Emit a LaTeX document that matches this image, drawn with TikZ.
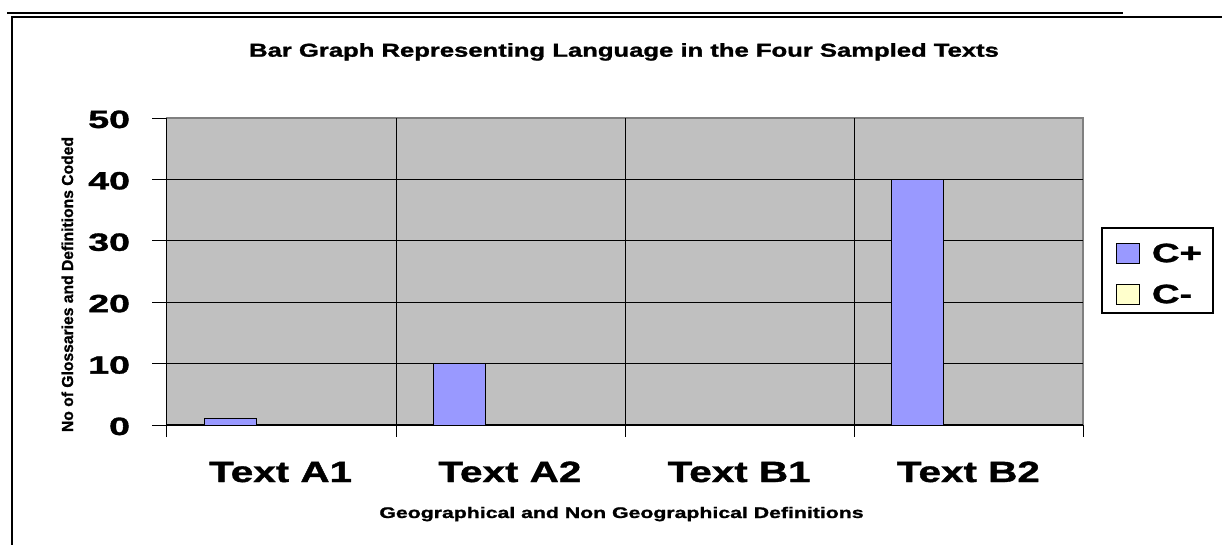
\documentclass[tikz,border=0pt]{standalone}
\usepackage{fontspec}
\setmainfont[BoldFeatures={FakeBold=1.2}]{Liberation Sans}
\usetikzlibrary{positioning}

\definecolor{plotgray}{RGB}{192,192,192}
\definecolor{edgegray}{RGB}{128,128,128}
\definecolor{cplus}{RGB}{153,153,255}
\definecolor{cminus}{RGB}{255,255,204}

\newcommand{\widen}[2]{\scalebox{#1}[1]{#2}} % stretches a text sideways

\tikzset{
x=1pt, y=-1pt, % one unit is one pixel, y runs down
every node/.style={inner sep=0pt, outer sep=0pt},
charttitle/.style={font=\fontsize{18.7}{20}\selectfont\bfseries, anchor=base},
ticklabel/.style={font=\fontsize{25}{26}\selectfont\bfseries, anchor=base east},
catlabel/.style={font=\fontsize{29.3}{30}\selectfont\bfseries, anchor=base},
axistitle/.style={font=\fontsize{15.4}{16}\selectfont\bfseries, anchor=base},
legendlabel/.style={font=\fontsize{26.5}{27}\selectfont\bfseries},
swatch/.style={draw=black, line width=1pt, minimum width=23pt, minimum height=20pt},
barbox/.style={draw=black, line width=1pt, fill=cplus},
grid line/.style={black, line width=1pt},
}

\begin{document}
\begin{tikzpicture}
    \useasboundingbox (0,0) rectangle (1222,544);

    % page rules and frame
    \draw[line width=2.6pt] (7,13) -- (1123,13);
    \draw[line width=2.3pt] (12,546) -- (12,17) -- (1224,17);

    % plot area
    \fill[plotgray] (166,118) rectangle (1083,425);
    \draw[edgegray, line width=1.5pt] (166,118) -- (1083,118) -- (1083,425);
    \foreach \v in {10,20,30,40}
        \draw[grid line] (166,{425-\v*6.14}) -- (1083,{425-\v*6.14});
    \foreach \v in {0,10,...,50}{
        \draw[grid line] (152,{425-\v*6.14}) -- (166,{425-\v*6.14});
        \node[ticklabel] (y\v) at (130,{435-\v*6.14}) {\widen{1.5}{\v}};
    }
    \foreach \x in {396,625,854}
        \draw[grid line] (\x,118) -- (\x,437);
    \draw[grid line] (166,437) -- (166,118);
    \draw[grid line] (1083,425) -- (1083,437);
    \draw[black, line width=1.3pt] (166,425) -- (1083,425);

    % bars and categories
    \foreach \i/\name/\val in {0/Text A1/1, 1/Text A2/10, 2/Text B1/0, 3/Text B2/40}{
        \pgfmathsetmacro{\catleft}{166+\i*229.25}
        \ifnum\val>0
            \draw[barbox] (\catleft+38,425) rectangle (\catleft+90,{425-\val*6.14});
        \fi
        \node[catlabel] (c\i) at (\catleft+114.6,482) {\widen{1.38}{\name}};
    }

    % titles
    \node[charttitle] (title) at (624,56.7)
        {\widen{1.37}{Bar Graph Representing Language in the Four Sampled Texts}};
    \node[axistitle] (xtitle) at (621.5,518)
        {\widen{1.38}{Geographical and Non Geographical Definitions}};
    \node[rotate=90, anchor=base] (ytitle) at (73,284.5)
        {\resizebox{295pt}{11.5pt}{\bfseries No of Glossaries and Definitions Coded}};

    % legend
    \node[draw=black, line width=1.5pt, fill=white, minimum width=111pt, minimum height=85pt] (legend) at (1157.5,270.5) {};
    \node[swatch, fill=cplus] (swplus) at (1127.5,253) {};
    \node[swatch, fill=cminus] (swminus) at (1127.5,294) {};
    \node[legendlabel, right=13pt of swplus] (lplus) {\widen{1.44}{C+}};
    \node[legendlabel, right=13pt of swminus] (lminus) {\widen{1.44}{C-}};
\end{tikzpicture}
\end{document}
